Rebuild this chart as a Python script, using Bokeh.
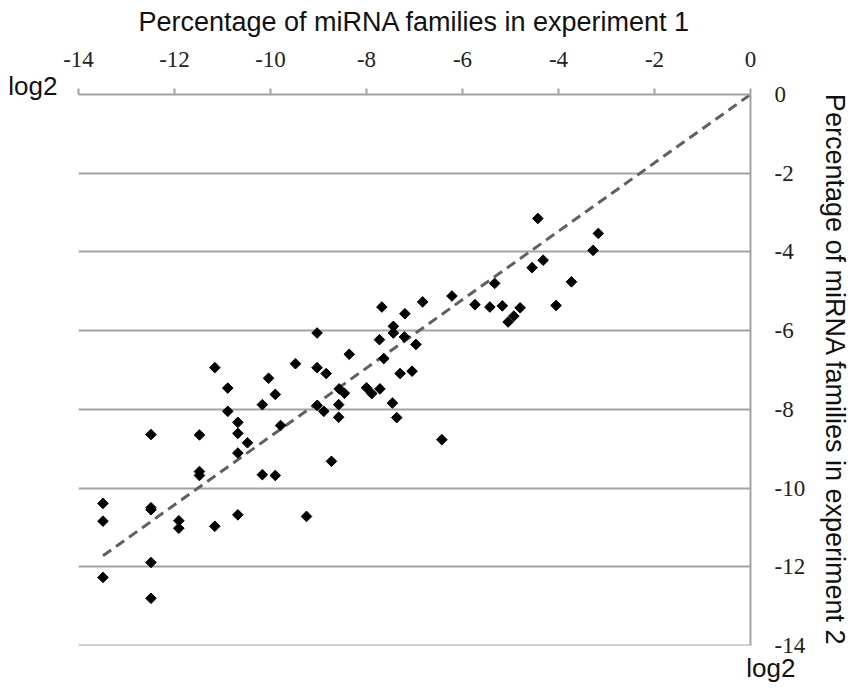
import math
from bokeh.plotting import figure
from bokeh.models import Range1d, FixedTicker, ColumnDataSource, LinearAxis, Title, Span
from bokeh.embed import file_html
from bokeh.resources import INLINE

# log2 percentage values
exp1 = [
    -9.03, -8.36, -11.16, -9.48, -9.03, -8.84, -10.04, -10.89, -9.90, -8.57,
    -8.46, -8.58, -10.17, -9.03, -8.89, -10.89, -8.58, -10.68, -9.79, -12.49,
    -11.48, -10.68, -10.48, -10.68, -8.73, -11.48, -11.48, -10.17, -9.90, -13.49,
    -12.49, -12.49, -13.49, -10.68, -9.25, -11.91, -11.91, -11.16, -12.49, -13.49,
    -12.49,
    -7.68, -7.20, -7.44, -7.44, -7.21, -7.73, -6.97, -7.64, -7.30, -7.05,
    -8.00, -7.89, -7.72, -7.46, -7.37, -6.43,
    -4.43, -3.17, -3.28, -4.32, -4.55, -3.73, -5.33, -6.22, -6.83, -5.74,
    -5.43, -5.17, -4.80, -4.05, -4.93, -5.05,
]
exp2 = [
    -6.06, -6.60, -6.94, -6.84, -6.94, -7.09, -7.21, -7.46, -7.62, -7.48,
    -7.59, -7.88, -7.88, -7.90, -8.05, -8.05, -8.20, -8.33, -8.41, -8.64,
    -8.65, -8.61, -8.85, -9.11, -9.32, -9.58, -9.68, -9.66, -9.68, -10.39,
    -10.50, -10.55, -10.84, -10.68, -10.72, -10.83, -11.02, -10.97, -11.89, -12.27,
    -12.80,
    -5.40, -5.57, -5.89, -6.06, -6.16, -6.23, -6.35, -6.71, -7.09, -7.03,
    -7.45, -7.60, -7.48, -7.84, -8.21, -8.77,
    -3.15, -3.53, -3.96, -4.21, -4.40, -4.76, -4.80, -5.12, -5.27, -5.34,
    -5.40, -5.37, -5.42, -5.36, -5.63, -5.78,
]
trend_x = [-13.49, 0.0]
trend_y = [-11.72, 0.0]
ticks = [-14, -12, -10, -8, -6, -4, -2, 0]
tick_labels = {t: str(t) for t in ticks}
x_title = "Percentage of miRNA families in experiment 1"
y_title = "Percentage of miRNA families in experiment 2"
unit_label = "log2"

GRID = "#a3a3a3"
SANS = "Liberation Sans"
SERIF = "Liberation Serif"
TXT = "#111111"

p = figure(
    width=853, height=692,
    x_range=Range1d(-14, 0), y_range=Range1d(-14, 0),
    x_axis_location="above", y_axis_location="right",
    output_backend="svg", toolbar_location=None,
    min_border_left=78, min_border_right=101,
    min_border_top=94, min_border_bottom=47,
)
p.outline_line_color = None
p.background_fill_color = "white"
p.border_fill_color = "white"

# top x axis
xa = p.xaxis[0]
xa.ticker = FixedTicker(ticks=ticks)
xa.major_label_overrides = tick_labels
xa.axis_label = x_title
xa.axis_label_text_font = SANS
xa.axis_label_text_font_size = "27px"
xa.axis_label_text_font_style = "normal"
xa.axis_label_text_color = TXT
xa.axis_label_standoff = 12
xa.major_label_text_font = SERIF
xa.major_label_text_font_size = "23px"
xa.major_label_text_color = "#222222"
xa.major_label_standoff = 22
xa.major_tick_out = 6
xa.major_tick_in = 0
xa.minor_tick_out = 0
xa.minor_tick_in = 0
xa.axis_line_color = GRID
xa.axis_line_width = 2
xa.major_tick_line_color = GRID
xa.major_tick_line_width = 2

# right y axis
ya = p.yaxis[0]
ya.ticker = FixedTicker(ticks=ticks)
ya.major_label_overrides = tick_labels
ya.axis_label = y_title
ya.axis_label_text_font = SANS
ya.axis_label_text_font_size = "27px"
ya.axis_label_text_font_style = "normal"
ya.axis_label_text_color = TXT
ya.axis_label_standoff = 12
ya.major_label_text_font = SERIF
ya.major_label_text_font_size = "23px"
ya.major_label_text_color = "#222222"
ya.major_label_standoff = 24
ya.major_tick_out = 0
ya.major_tick_in = 0
ya.minor_tick_out = 0
ya.minor_tick_in = 0
ya.axis_line_color = GRID
ya.axis_line_width = 2

# left "log2" unit marker, carried by a bare axis with a single tick at 0
ua = LinearAxis(ticker=FixedTicker(ticks=[0]), major_label_overrides={0: unit_label + "\n"})
ua.axis_line_color = None
ua.major_tick_line_color = None
ua.minor_tick_line_color = None
ua.major_label_text_font = SANS
ua.major_label_text_font_size = "26px"
ua.major_label_text_line_height = 0.55
ua.major_label_text_color = TXT
ua.major_label_standoff = 15
p.add_layout(ua, "left")

# bottom border line at -14
p.add_layout(Span(location=-14, dimension="width", line_color=GRID, line_width=2))

# bottom-right "log2" unit marker
p.add_layout(Title(text=unit_label, align="right", offset=-45, text_font=SANS,
                   text_font_size="26px", text_font_style="normal",
                   text_color=TXT, standoff=11), "below")

p.xgrid.grid_line_color = None
p.ygrid.ticker = FixedTicker(ticks=ticks)
p.ygrid.grid_line_color = GRID
p.ygrid.grid_line_width = 2

# trend line
p.line(trend_x, trend_y, line_color="#606060", line_width=3, line_dash="10 6")

# points
src = ColumnDataSource(data=dict(x=exp1, y=exp2))
p.scatter("x", "y", source=src, marker="square", angle=math.pi / 4,
          size=7.5, fill_color="black", line_color="black", line_width=1)

open("out.html", "w").write(file_html(p, INLINE))
